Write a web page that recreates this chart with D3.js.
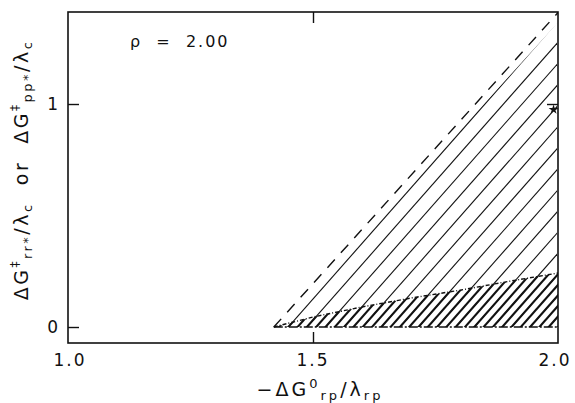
<!DOCTYPE html>
<html>
<head>
<meta charset="utf-8">
<script src="https://cdn.jsdelivr.net/npm/d3@7/dist/d3.min.js"></script>
<style>
  html, body { margin: 0; padding: 0; background: #fff; }
  svg { display: block; }
  text { font-family: "DejaVu Sans", sans-serif; fill: #111; }
</style>
</head>
<body>
<script>
// Driving force axis and activation-barrier axis
const xTicks = [1.0, 1.5, 2.0];
const xTickLabels = ["1.0", "1.5", "2.0"];
const yTicks = [0, 1];
const yTickLabels = ["0", "1"];

// Upper (dashed) bound of the allowed region
const dashedX = [1.42, 2.0];
const dashedY = [0, 1.41];

// Edge of the hatched region, just inside the dashed bound
const edgeX = [1.435, 2.0];
const edgeY = [0, 1.36];

// Lower (dotted) curve; the region beneath it is densely hatched
const dottedX = [1.42, 1.5, 1.6, 1.7, 1.8, 1.9, 2.0];
const dottedY = [0, 0.045, 0.09, 0.13, 0.165, 0.205, 0.242];

const rho = "2.00";
// marker at the right border
const markX = [1.995];
const markY = [0.975];

const W = 575, H = 403;
const M = { left: 68, right: 17, top: 12, bottom: 60 };

const svg = d3.select("body").append("svg").attr("width", W).attr("height", H);

const x = d3.scaleLinear().domain([1.0, 2.0]).range([M.left, W - M.right]);
const y = d3.scaleLinear().domain([-0.0717, 1.4126]).range([H - M.bottom, M.top]);

const defs = svg.append("defs");
defs.append("clipPath").attr("id", "frame")
  .append("rect").attr("x", x(1.0)).attr("y", y(1.4126))
  .attr("width", x(2.0) - x(1.0)).attr("height", y(-0.0717) - y(1.4126));

// Hatched region: between baseline, right border and the edge line
const upperPoly = [[edgeX[0], edgeY[0]], [edgeX[1], edgeY[1]], [2.0, 0]];
defs.append("clipPath").attr("id", "upperRegion")
  .append("path").attr("d", "M" + upperPoly.map(p => [x(p[0]) - 1, y(p[1])].join(",")).join("L") + "Z");

const lowerPoly = dottedX.map((v, i) => [v, dottedY[i]]).concat([[2.0, 0]]);
defs.append("clipPath").attr("id", "lowerRegion")
  .append("path").attr("d", "M" + lowerPoly.map(p => [x(p[0]), y(p[1])].join(",")).join("L") + "Z");

// hatch lines run parallel to the dashed bound
const slope = (y(dashedY[1]) - y(dashedY[0])) / (x(dashedX[1]) - x(dashedX[0])); // px/px (negative)
const spacing = 18.6;
const baseX0 = x(edgeX[0]);
const y0px = y(0), yTopPx = y(1.45);
function hatch(g, step, width) {
  for (let k = -2; k < 60; k++) {
    const xs = baseX0 + k * step;
    const xe = xs + (yTopPx - y0px) / slope;
    g.append("line")
      .attr("x1", xs - 4 / slope).attr("y1", y0px + 4)
      .attr("x2", xe).attr("y2", yTopPx)
      .attr("stroke", "#111").attr("stroke-width", width);
  }
}
const gUpper = svg.append("g").attr("clip-path", "url(#upperRegion)");
hatch(gUpper, spacing, 1.1);
const gLower = svg.append("g").attr("clip-path", "url(#lowerRegion)");
hatch(gLower, spacing / 2, 2.1);

// dashed bound
const line = d3.line().x(d => x(d[0])).y(d => y(d[1]));
svg.append("path")
  .attr("clip-path", "url(#frame)")
  .attr("d", line(dashedX.map((v, i) => [v, dashedY[i]])))
  .attr("fill", "none").attr("stroke", "#111").attr("stroke-width", 1.4)
  .attr("stroke-dasharray", "11,9");

// dotted curve
svg.append("path")
  .attr("d", line(dottedX.map((v, i) => [v, dottedY[i]])))
  .attr("fill", "none").attr("stroke", "#111").attr("stroke-width", 1.4)
  .attr("stroke-dasharray", "4,2,1,2");

// baseline of the region
svg.append("path")
  .attr("d", line([[dottedX[0], 0], [2.0, 0]]))
  .attr("fill", "none").attr("stroke", "#111").attr("stroke-width", 1.6)
  .attr("stroke-dasharray", "9,2,2,2");

// frame
svg.append("rect")
  .attr("x", x(1.0)).attr("y", y(1.4126))
  .attr("width", x(2.0) - x(1.0)).attr("height", y(-0.0717) - y(1.4126))
  .attr("fill", "none").attr("stroke", "#111").attr("stroke-width", 1.6);

// ticks pointing inward
const tickLen = 11;
svg.append("g").attr("transform", `translate(0,${y(-0.0717)})`)
  .call(d3.axisBottom(x).tickValues([1.5]).tickSize(-tickLen).tickFormat(""))
  .call(g => g.select(".domain").remove())
  .call(g => g.selectAll("line").attr("stroke", "#111").attr("stroke-width", 1.4));
svg.append("g").attr("transform", `translate(0,${y(1.4126)})`)
  .call(d3.axisTop(x).tickValues([1.5]).tickSize(-tickLen).tickFormat(""))
  .call(g => g.select(".domain").remove())
  .call(g => g.selectAll("line").attr("stroke", "#111").attr("stroke-width", 1.4));
svg.append("g").attr("transform", `translate(${x(1.0)},0)`)
  .call(d3.axisLeft(y).tickValues(yTicks).tickSize(-tickLen).tickFormat(""))
  .call(g => g.select(".domain").remove())
  .call(g => g.selectAll("line").attr("stroke", "#111").attr("stroke-width", 1.4));
svg.append("g").attr("transform", `translate(${x(2.0)},0)`)
  .call(d3.axisRight(y).tickValues([1]).tickSize(-tickLen).tickFormat(""))
  .call(g => g.select(".domain").remove())
  .call(g => g.selectAll("line").attr("stroke", "#111").attr("stroke-width", 1.4));

// tick labels
svg.append("g").selectAll("text").data(xTicks).join("text")
  .attr("x", (d, i) => x(d) + (i === 0 ? 2 : (i === 2 ? -3 : 0)))
  .attr("y", 366)
  .attr("text-anchor", "middle").attr("font-size", 17).attr("letter-spacing", 2)
  .text((d, i) => xTickLabels[i]);
svg.append("g").selectAll("text").data(yTicks).join("text")
  .attr("x", 58).attr("y", d => y(d) + 6)
  .attr("text-anchor", "end").attr("font-size", 17)
  .text((d, i) => yTickLabels[i]);

// marker
svg.append("g").selectAll("path").data(markX).join("path")
  .attr("transform", (d, i) => `translate(${x(d) - 2},${y(markY[i])})`)
  .attr("d", d3.symbol(d3.symbolStar, 30))
  .attr("fill", "#111");

// parameter annotation
svg.append("text").attr("x", 130).attr("y", 47).attr("font-size", 16)
  .attr("letter-spacing", 2).attr("xml:space", "preserve")
  .text("ρ  =  " + rho);

// axis titles
const xt = svg.append("text").attr("x", 320).attr("y", 396)
  .attr("text-anchor", "middle").attr("font-size", 19).attr("letter-spacing", 3);
xt.append("tspan").text("−ΔG");
xt.append("tspan").attr("font-size", 13).attr("dy", -8).text("0");
xt.append("tspan").attr("font-size", 13).attr("dy", 12).text("rp");
xt.append("tspan").attr("dy", -4).text("/λ");
xt.append("tspan").attr("font-size", 13).attr("dy", 4).text("rp");

const yt = svg.append("text").attr("transform", `translate(28,170) rotate(-90)`)
  .attr("text-anchor", "middle").attr("font-size", 19).attr("letter-spacing", 2.5);
yt.append("tspan").text("ΔG");
yt.append("tspan").attr("font-size", 12).attr("dy", -9).text("‡");
yt.append("tspan").attr("font-size", 13).attr("dy", 13).text("rr*");
yt.append("tspan").attr("dy", -4).text("/λ");
yt.append("tspan").attr("font-size", 13).attr("dy", 4).text("c");
yt.append("tspan").attr("dy", -4).attr("xml:space", "preserve").text("  or  ΔG");
yt.append("tspan").attr("font-size", 12).attr("dy", -9).text("‡");
yt.append("tspan").attr("font-size", 13).attr("dy", 13).text("pp*");
yt.append("tspan").attr("dy", -4).text("/λ");
yt.append("tspan").attr("font-size", 13).attr("dy", 4).text("c");
</script>
</body>
</html>
